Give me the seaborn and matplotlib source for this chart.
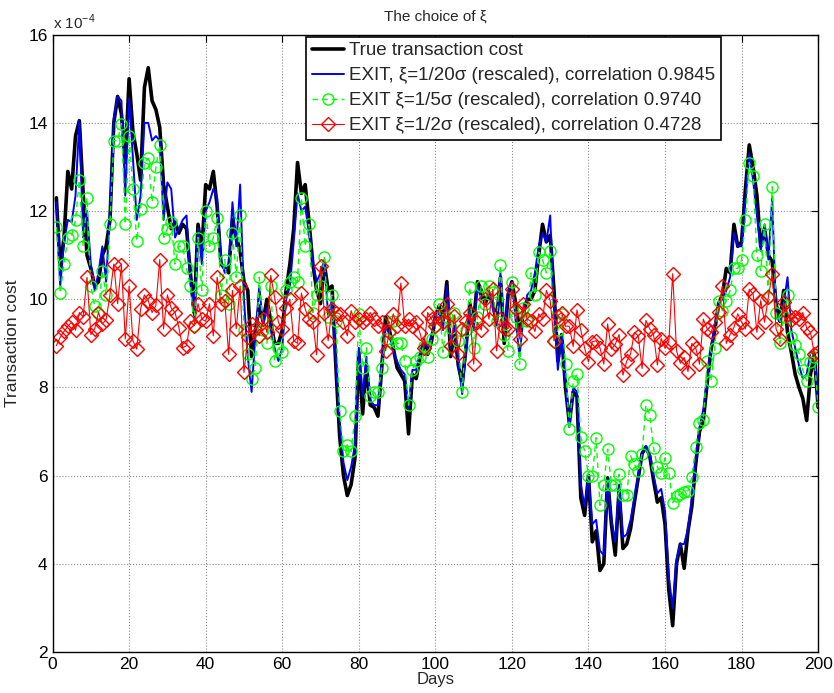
import numpy as np
import pandas as pd
import matplotlib
matplotlib.use('Agg')
import matplotlib.pyplot as plt
from matplotlib.ticker import FuncFormatter
import seaborn as sns

# values, in units of 1e-4
days = list(range(1, 201))

true_cost = [
    12.3, 10.7, 11.4, 12.9, 12.5, 13.7, 14.05, 12.4, 11.0, 10.7,
    10.3, 10.4, 11.0, 11.2, 11.8, 14.0, 14.6, 14.2, 13.1, 15.0,
    13.8, 13.3, 12.7, 14.8, 15.25, 14.5, 14.3, 13.9, 12.6, 12.1,
    11.6, 11.75, 11.5, 11.7, 11.6, 10.6, 9.7, 11.7, 11.1, 12.6,
    12.5, 12.9, 12.1, 10.8, 10.7, 10.6, 11.8, 11.4, 11.1, 10.4,
    10.2, 8.7, 9.3, 9.85, 9.5, 10.0, 9.5, 9.0, 9.0, 9.3,
    10.2, 10.8, 11.6, 13.1, 12.4, 12.6, 11.75, 10.8, 10.2, 9.9,
    10.8, 10.2, 10.3, 8.5, 6.9, 6.0, 5.55, 5.8, 6.4, 8.8,
    7.4, 8.5, 7.6, 7.55, 7.35, 8.45, 9.6, 9.3, 8.9, 8.45,
    8.3, 8.15, 6.95, 8.3, 8.2, 8.7, 9.0, 8.75, 9.05, 9.6,
    9.85, 9.5, 10.4, 8.7, 9.3, 8.5, 8.1, 8.9, 9.9, 9.5,
    10.4, 10.2, 9.9, 10.1, 9.9, 9.5, 10.5, 9.0, 10.1, 10.4,
    9.9, 9.3, 9.7, 10.0, 10.0, 10.2, 11.0, 11.7, 11.3, 11.45,
    10.2, 8.6, 9.2, 8.0, 7.2, 7.9, 7.8, 5.5, 5.1, 6.0,
    4.5, 4.75, 3.85, 4.0, 5.95, 4.9, 4.2, 5.7, 4.35, 4.45,
    4.8, 5.4, 5.95, 6.5, 6.65, 6.45, 5.9, 5.4, 5.5, 4.9,
    3.4, 2.6, 4.0, 4.45, 3.9, 4.75, 5.3, 6.25, 7.0, 7.25,
    8.1, 8.85, 9.3, 9.9, 10.1, 10.7, 10.6, 11.7, 11.2, 11.3,
    12.5, 13.5, 13.0, 12.35, 11.2, 11.6, 11.0, 10.85, 9.9, 9.5,
    10.2, 9.25, 8.8, 8.3, 8.0, 7.75, 7.25, 8.3, 8.75, 7.55,
]

exit_20 = [
    12.2, 10.3, 11.3, 11.8, 11.75, 12.35, 14.05, 11.4, 12.0, 10.8,
    10.2, 10.6, 11.2, 10.4, 12.0, 14.1, 14.6, 14.5, 12.35, 14.55,
    13.2, 11.8, 12.35, 14.0, 14.0, 13.6, 13.7, 13.6, 11.8, 12.65,
    12.5, 11.4, 11.6, 11.8, 11.9, 10.4, 9.6, 11.6, 10.8, 12.0,
    12.2, 12.5, 12.3, 10.9, 10.6, 10.8, 12.2, 11.2, 12.6, 10.0,
    8.7, 7.9, 9.2, 10.3, 9.4, 9.8, 9.3, 8.9, 8.6, 8.9,
    10.0, 10.3, 11.3, 12.4, 12.0, 12.1, 11.5, 10.8, 10.4, 10.6,
    10.9, 9.6, 10.0, 8.6, 7.2, 6.3, 5.9, 6.2, 6.7, 8.9,
    7.8, 8.7, 7.7, 7.6, 7.6, 8.6, 9.4, 9.2, 8.8, 8.6,
    8.4, 8.3, 7.5, 8.4, 8.4, 8.8, 9.1, 8.9, 9.2, 9.6,
    9.7, 9.3, 10.3, 8.9, 9.4, 8.6, 7.85, 8.8, 9.8, 9.3,
    10.3, 10.0, 10.0, 10.2, 9.8, 9.4, 10.6, 9.2, 10.2, 10.4,
    9.5, 8.7, 9.6, 10.1, 10.2, 10.6, 11.2, 11.5, 11.3, 11.9,
    9.8, 8.4, 9.2, 8.1, 7.1, 8.0, 7.9, 5.8, 5.3, 6.0,
    4.9, 5.0, 4.3, 4.2, 5.95, 5.0, 4.5, 5.8, 4.6, 4.67,
    5.0, 5.5, 6.0, 6.5, 6.67, 6.5, 6.0, 5.6, 5.7, 5.2,
    3.7, 3.0, 4.1, 4.45, 4.45, 4.8, 5.5, 6.4, 7.1, 7.5,
    8.2, 8.9, 9.4, 9.9, 10.0, 10.2, 10.5, 11.5, 11.2, 11.2,
    12.3, 13.3, 12.7, 11.9, 11.1, 11.7, 10.9, 12.3, 9.6, 9.5,
    9.9, 10.5, 9.3, 8.9, 8.5, 8.2, 8.3, 8.8, 8.8, 7.55,
]

exit_5 = [
    11.64, 10.14, 10.8, 11.4, 11.45, 11.8, 12.7, 11.2, 12.3, 10.3,
    9.85, 9.7, 10.65, 10.1, 11.7, 13.6, 13.6, 13.98, 11.7, 13.7,
    12.5, 11.33, 12.05, 13.1, 13.2, 12.2, 13.0, 13.5, 11.4, 11.6,
    11.75, 10.8, 11.2, 11.2, 10.7, 10.3, 9.4, 11.4, 10.2, 12.0,
    11.2, 11.4, 11.85, 10.1, 10.9, 9.9, 11.5, 10.5, 11.9, 9.3,
    8.76, 8.2, 8.45, 10.5, 9.3, 9.0, 10.3, 8.6, 8.9, 8.8,
    10.2, 10.4, 10.5, 10.4, 12.3, 11.2, 11.7, 9.7, 10.1, 10.3,
    10.95, 9.6, 10.1, 9.5, 7.47, 6.55, 6.7, 6.55, 7.35, 9.67,
    8.45, 8.9, 7.8, 7.9, 7.9, 8.45, 9.1, 9.05, 9.5, 9.0,
    9.0, 8.6, 7.6, 8.4, 8.6, 8.7, 8.95, 8.7, 9.1, 9.4,
    9.9, 8.8, 9.6, 9.36, 9.7, 9.06, 7.89, 9.3, 10.27, 8.9,
    9.6, 10.3, 9.9, 10.3, 10.16, 9.5, 10.77, 9.2, 8.83, 10.4,
    9.6, 8.53, 9.8, 9.5, 10.6, 10.1, 11.07, 10.9, 10.6, 11.1,
    9.06, 9.3, 9.67, 8.53, 7.05, 8.15, 8.3, 6.88, 6.56, 6.0,
    6.0, 6.86, 5.33, 5.8, 6.6, 5.8, 5.8, 6.03, 5.56, 5.56,
    6.45, 6.26, 6.1, 6.5, 7.6, 7.38, 6.62, 6.2, 6.07, 6.4,
    6.07, 5.39, 5.54, 5.58, 5.64, 5.66, 5.97, 6.65, 7.2, 7.26,
    8.6, 8.15, 8.9, 9.97, 9.74, 9.97, 10.2, 10.7, 10.7, 10.9,
    11.8, 13.1, 12.8, 11.0, 10.65, 11.7, 10.05, 12.55, 9.7, 9.0,
    9.6, 10.1, 9.14, 8.96, 8.77, 8.4, 8.15, 8.57, 8.7, 7.55,
]

exit_2 = [
    8.95, 9.14, 9.27, 9.39, 9.48, 9.3, 9.7, 9.6, 10.5, 9.2,
    9.33, 9.7, 9.44, 9.54, 10.1, 10.8, 9.9, 10.77, 9.1, 10.3,
    9.06, 8.87, 9.78, 10.1, 9.97, 9.7, 9.86, 10.9, 9.33, 10.1,
    9.8, 9.7, 9.36, 8.9, 8.95, 9.5, 9.4, 9.9, 9.55, 9.5,
    9.9, 9.17, 10.5, 9.9, 9.95, 8.75, 10.2, 9.33, 10.3, 8.34,
    9.14, 9.44, 9.33, 9.17, 9.55, 9.25, 10.54, 10.05, 9.48, 9.33,
    9.8, 10.0, 9.06, 9.0, 10.14, 9.78, 9.55, 9.48, 8.74, 10.75,
    9.7, 9.06, 9.78, 9.7, 9.67, 9.48, 9.17, 9.74, 9.48, 9.55,
    9.48, 9.55, 9.7, 9.55, 9.4, 9.48, 8.83, 9.25, 9.67, 9.39,
    10.37, 9.4, 9.55, 9.4, 9.48, 9.23, 8.9, 9.7, 9.55, 9.4,
    9.63, 9.48, 9.9, 8.95, 9.63, 8.76, 9.33, 9.5, 9.7, 8.53,
    9.48, 9.3, 10.0, 9.55, 10.23, 8.83, 9.55, 9.36, 9.33, 10.23,
    9.78, 9.1, 9.9, 9.55, 9.5, 9.27, 9.67, 9.55, 10.2, 9.97,
    9.06, 9.63, 9.7, 9.39, 9.39, 8.93, 9.76, 9.3, 8.89, 8.58,
    9.04, 9.06, 8.9, 8.53, 9.44, 8.87, 8.98, 9.2, 8.28, 8.6,
    8.76, 9.25, 9.17, 8.43, 9.52, 9.33, 9.2, 8.51, 9.11, 8.89,
    9.04, 10.58, 8.83, 8.55, 8.68, 8.36, 9.0, 8.9, 8.53, 9.55,
    9.33, 9.25, 9.48, 9.72, 10.3, 9.0, 9.2, 9.36, 9.67, 9.48,
    9.33, 10.23, 10.12, 9.25, 9.97, 9.48, 10.05, 10.58, 9.33, 9.11,
    9.93, 9.67, 9.54, 9.6, 9.55, 9.7, 9.34, 9.25, 8.76, 8.8,
]

scale = 1e-4

labels = [
    'True transaction cost',
    'EXIT, \u03be=1/20\u03c3 (rescaled), correlation 0.9845',
    'EXIT \u03be=1/5\u03c3 (rescaled), correlation 0.9740',
    'EXIT \u03be=1/2\u03c3 (rescaled), correlation 0.4728',
]

x_ticks = list(range(0, 201, 20))
y_ticks = [2, 4, 6, 8, 10, 12, 14, 16]

df = pd.DataFrame({
    'day': days,
    'true': np.array(true_cost) * scale,
    'e20': np.array(exit_20) * scale,
    'e5': np.array(exit_5) * scale,
    'e2': np.array(exit_2) * scale,
})

sns.set_style('white')
plt.rcParams['font.family'] = ['Liberation Sans', 'DejaVu Sans']
plt.rcParams['mathtext.fontset'] = 'custom'
plt.rcParams['mathtext.rm'] = 'Liberation Sans'

fig = plt.figure(figsize=(8.34, 6.93), dpi=100)
ax = fig.add_axes([0.063, 0.059, 0.918, 0.891])

sns.lineplot(data=df, x='day', y='true', color='black', linewidth=2.6,
             label=labels[0], ax=ax)
sns.lineplot(data=df, x='day', y='e20', color='#0000ff', linewidth=1.4,
             label=labels[1], ax=ax)
sns.lineplot(data=df, x='day', y='e5', color='#00ff00', linewidth=1.0,
             linestyle=(0, (4, 3)), marker='o', markersize=8,
             markerfacecolor='none', markeredgecolor='#00ff00',
             markeredgewidth=1.0, label=labels[2], ax=ax)
sns.lineplot(data=df, x='day', y='e2', color='#ff0000', linewidth=0.8,
             marker='D', markersize=7, markerfacecolor='none',
             markeredgecolor='#ff0000', markeredgewidth=1.0,
             label=labels[3], ax=ax)

ax.set_xlim(0, 200)
ax.set_ylim(2 * scale, 16 * scale)
ax.set_xticks(x_ticks)
ax.set_yticks([v * scale for v in y_ticks])
ax.yaxis.set_major_formatter(FuncFormatter(lambda v, p: f'{v / scale:.0f}'))
ax.text(0.0, 1.004, 'x 10$^{-4}$', transform=ax.transAxes,
        ha='left', va='bottom', fontsize=11)

ax.grid(True, linestyle=':', color='0.55', linewidth=0.8)
ax.tick_params(direction='in', top=True, right=True, length=5,
               labelsize=12.5, colors='black')
for s in ax.spines.values():
    s.set_color('black')
    s.set_linewidth(1.0)

ax.set_title('The choice of \u03be', fontsize=11, pad=10)
ax.set_xlabel('Days', fontsize=12, labelpad=0)
ax.set_ylabel('Transaction cost', fontsize=12.5, labelpad=6)

leg = ax.legend(loc='upper right', bbox_to_anchor=(0.873, 0.997),
                fontsize=13.5, frameon=True, fancybox=False,
                edgecolor='black', framealpha=1, borderpad=0.3,
                labelspacing=0.42, handlelength=1.7, handletextpad=0.3,
                borderaxespad=0)
leg.get_frame().set_linewidth(1.2)

fig.savefig('out.png', dpi=100)
